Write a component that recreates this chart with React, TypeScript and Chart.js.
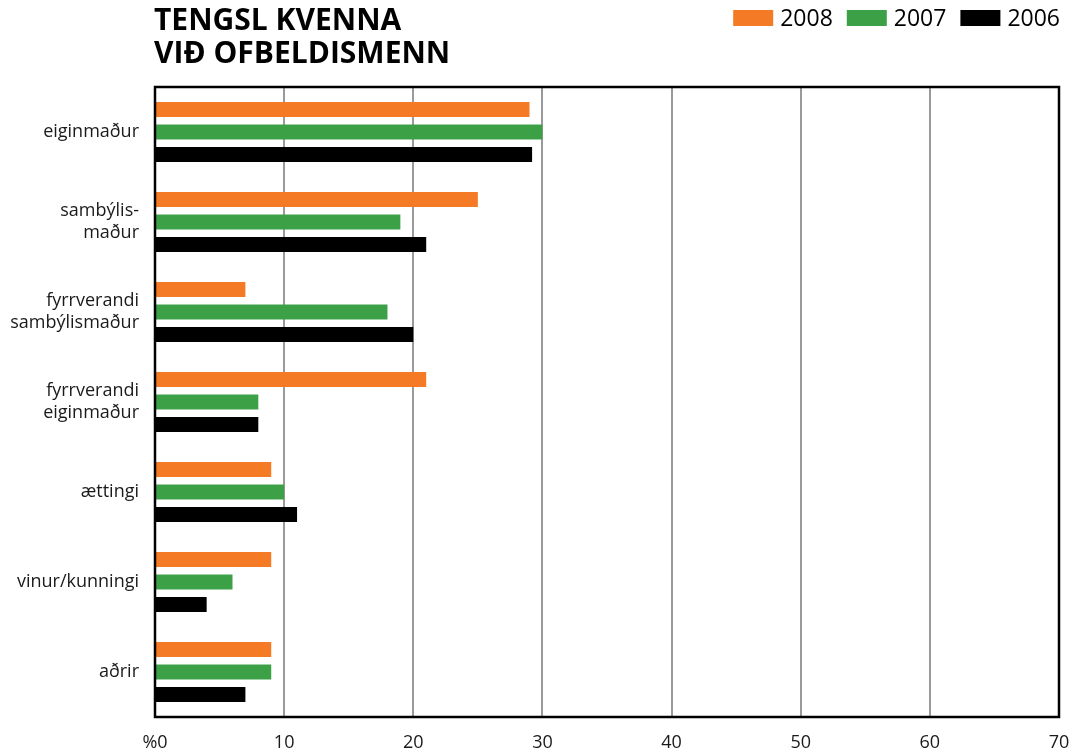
import React, { useEffect, useRef } from "react";
import { Chart, registerables } from "chart.js";

Chart.register(...registerables);

const categories: (string | string[])[] = [
  "eiginmaður",
  ["sambýlis-", "maður"],
  ["fyrrverandi", "sambýlismaður"],
  ["fyrrverandi", "eiginmaður"],
  "ættingi",
  "vinur/kunningi",
  "aðrir",
];
const values2008 = [29, 25, 7, 21, 9, 9, 9];
const values2007 = [30, 19, 18, 8, 10, 6, 9];
const values2006 = [29.2, 21, 20, 8, 11, 4, 7];
const xTicks = [0, 10, 20, 30, 40, 50, 60, 70];
const titleLines = ["TENGSL KVENNA", "VIÐ OFBELDISMENN"];

const FONT = "'Open Sans', 'DejaVu Sans', sans-serif";

const borderPlugin = {
  id: "plotBorder",
  afterDatasetsDraw(chart: any) {
    const { ctx, chartArea } = chart;
    ctx.save();
    ctx.strokeStyle = "#000";
    ctx.lineWidth = 2.5;
    ctx.strokeRect(chartArea.left, chartArea.top, chartArea.right - chartArea.left, chartArea.bottom - chartArea.top);
    ctx.restore();
  },
};

// Legend drawn from the chart's own datasets, right-aligned at the top
const legendPlugin = {
  id: "topLegend",
  afterDraw(chart: any) {
    const { ctx } = chart;
    const ds = chart.data.datasets;
    const boxW = 40;
    const boxH = 16;
    const gapBoxText = 7;
    const gapItems = 14;
    const rightEdge = 1060;
    const cy = 18;
    ctx.save();
    ctx.font = `23px ${FONT}`;
    ctx.textBaseline = "middle";
    ctx.textAlign = "left";
    const widths = ds.map((d: any) => ctx.measureText(d.label).width);
    let total = 0;
    ds.forEach((_: any, i: number) => {
      total += boxW + gapBoxText + widths[i] + (i < ds.length - 1 ? gapItems : 0);
    });
    let x = rightEdge - total;
    ds.forEach((d: any, i: number) => {
      ctx.fillStyle = d.backgroundColor;
      ctx.fillRect(x, cy - boxH / 2, boxW, boxH);
      x += boxW + gapBoxText;
      ctx.fillStyle = "#000";
      ctx.fillText(d.label, x, cy + 1);
      x += widths[i] + gapItems;
    });
    ctx.restore();
  },
};

export default function App() {
  const ref = useRef<HTMLCanvasElement>(null);
  useEffect(() => {
    document.body.style.margin = "0";
    const chart = new Chart(ref.current!, {
      type: "bar",
      data: {
        labels: categories,
        datasets: [
          { label: "2008", data: values2008, backgroundColor: "#f47a25" },
          { label: "2007", data: values2007, backgroundColor: "#3ca146" },
          { label: "2006", data: values2006, backgroundColor: "#000000" },
        ],
      },
      options: {
        indexAxis: "y",
        animation: false,
        responsive: false,
        datasets: { bar: { categoryPercentage: 0.75, barPercentage: 0.67 } },
        layout: { padding: { top: 87, right: 14, left: 0, bottom: 0 } },
        plugins: {
          title: { display: false },
          tooltip: { enabled: false },
          legend: { display: false },
        },
        scales: {
          x: {
            min: 0,
            max: 70,
            afterBuildTicks: (scale: any) => {
              scale.ticks = xTicks.map((v) => ({ value: v }));
            },
            afterFit: (scale: any) => {
              scale.height = 36;
              scale.paddingRight = 0;
              scale.paddingLeft = 0;
            },
            grid: {
              color: (c: any) => (c.tick && (c.tick.value === 0 || c.tick.value === 70) ? "rgba(0,0,0,0)" : "#9a9a9c"),
              lineWidth: 2,
              drawTicks: false,
            },
            border: { display: false },
            ticks: {
              color: "#1a1a1a",
              padding: 15,
              font: { family: FONT, size: 18 },
              callback: (v: any) => (v === 0 ? "%0" : String(v)),
            },
          },
          y: {
            afterFit: (scale: any) => {
              scale.width = 155;
              scale.paddingTop = 0;
              scale.paddingBottom = 0;
            },
            grid: { display: false, drawTicks: false },
            border: { display: false },
            ticks: {
              color: "#1a1a1a",
              padding: 16,
              font: { family: FONT, size: 18, lineHeight: 1.2 },
            },
          },
        },
      },
      plugins: [borderPlugin, legendPlugin],
    } as any);
    return () => chart.destroy();
  }, []);
  return (
    <div style={{ position: "relative", width: 1073, height: 753 }}>
      <canvas ref={ref} width={1073} height={753} style={{ display: "block" }} />
      <div
        style={{
          position: "absolute",
          left: 154,
          top: 2,
          fontFamily: FONT,
          fontWeight: 700,
          fontSize: 30,
          lineHeight: "33px",
          color: "#000",
        }}
      >
        {titleLines.map((l) => (
          <div key={l}>{l}</div>
        ))}
      </div>
    </div>
  );
}
